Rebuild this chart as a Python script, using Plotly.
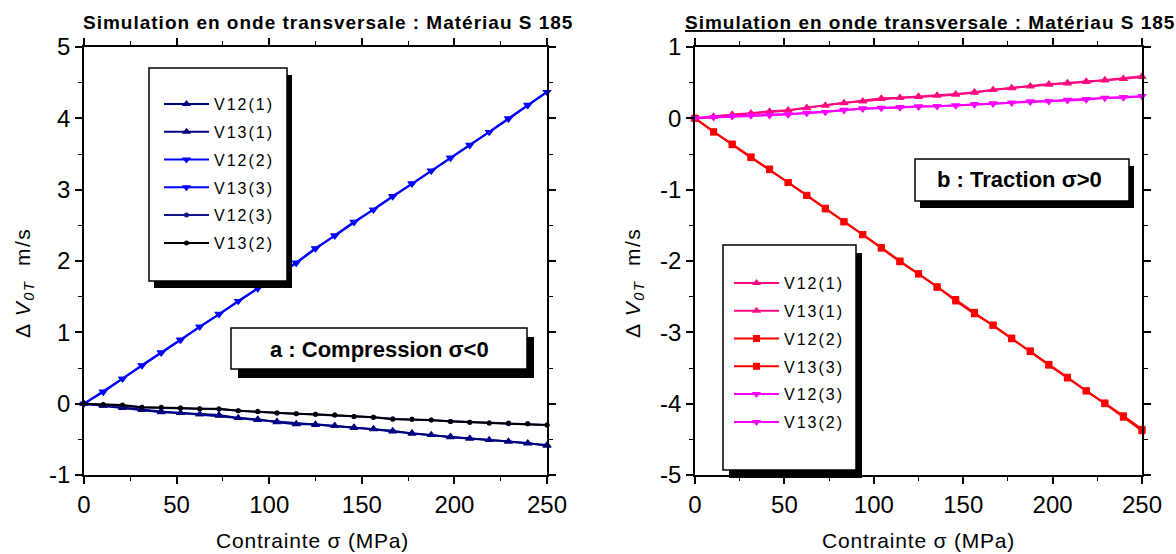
import plotly.graph_objects as go

W, H = 1176, 554

# ---------------- data ----------------
stress = [0, 10.4, 20.8, 31.3, 41.7, 52.1, 62.5, 72.9, 83.3, 93.8, 104.2, 114.6, 125.0,
          135.4, 145.8, 156.3, 166.7, 177.1, 187.5, 197.9, 208.3, 218.8, 229.2, 239.6, 250.0]

series_names = ["V12(1)", "V13(1)", "V12(2)", "V13(3)", "V12(3)", "V13(2)"]

# a : Compression
comp_v12_1 = [0, -0.03, -0.06, -0.09, -0.12, -0.13, -0.15, -0.16, -0.20, -0.22, -0.26, -0.29, -0.29,
              -0.31, -0.33, -0.36, -0.39, -0.41, -0.44, -0.47, -0.49, -0.51, -0.53, -0.55, -0.59]
comp_v13_1 = [0, -0.03, -0.05, -0.08, -0.11, -0.13, -0.15, -0.17, -0.20, -0.23, -0.25, -0.28, -0.30,
              -0.31, -0.34, -0.35, -0.38, -0.42, -0.44, -0.46, -0.49, -0.51, -0.53, -0.56, -0.58]
comp_v12_2 = [0, 0.16, 0.35, 0.53, 0.71, 0.89, 1.08, 1.25, 1.44, 1.61, 1.79, 1.98, 2.18,
              2.35, 2.54, 2.72, 2.91, 3.08, 3.26, 3.45, 3.62, 3.81, 3.99, 4.18, 4.37]
comp_v13_3 = [0, 0.17, 0.35, 0.54, 0.72, 0.90, 1.08, 1.26, 1.44, 1.62, 1.80, 1.97, 2.17,
              2.36, 2.55, 2.72, 2.90, 3.09, 3.27, 3.44, 3.63, 3.81, 4.00, 4.19, 4.37]
comp_v12_3 = [0, -0.02, -0.03, -0.05, -0.06, -0.06, -0.07, -0.08, -0.10, -0.11, -0.13, -0.14, -0.15,
              -0.16, -0.18, -0.19, -0.21, -0.22, -0.23, -0.25, -0.26, -0.27, -0.28, -0.28, -0.30]
comp_v13_2 = [0, -0.01, -0.02, -0.05, -0.05, -0.06, -0.07, -0.07, -0.10, -0.11, -0.13, -0.14, -0.15,
              -0.16, -0.18, -0.19, -0.22, -0.22, -0.23, -0.25, -0.26, -0.27, -0.27, -0.28, -0.30]

# b : Traction
trac_v12_1 = [0, 0.03, 0.055, 0.07, 0.10, 0.115, 0.15, 0.18, 0.22, 0.24, 0.27, 0.29, 0.30,
              0.32, 0.33, 0.37, 0.40, 0.42, 0.45, 0.48, 0.49, 0.52, 0.53, 0.55, 0.58]
trac_v13_1 = [0, 0.02, 0.05, 0.07, 0.09, 0.11, 0.15, 0.18, 0.21, 0.24, 0.28, 0.29, 0.31,
              0.32, 0.34, 0.36, 0.40, 0.43, 0.45, 0.47, 0.50, 0.51, 0.54, 0.56, 0.59]
trac_v12_2 = [0, -0.19, -0.36, -0.54, -0.71, -0.90, -1.08, -1.26, -1.45, -1.63, -1.81, -2.00, -2.18,
              -2.37, -2.54, -2.72, -2.90, -3.08, -3.26, -3.45, -3.63, -3.82, -3.99, -4.17, -4.36]
trac_v13_3 = [0, -0.19, -0.37, -0.55, -0.72, -0.90, -1.08, -1.27, -1.45, -1.63, -1.82, -2.01, -2.18,
              -2.36, -2.56, -2.74, -2.90, -3.09, -3.27, -3.46, -3.64, -3.82, -4.00, -4.19, -4.38]
trac_v12_3 = [0, 0.01, 0.03, 0.04, 0.04, 0.055, 0.08, 0.09, 0.11, 0.14, 0.14, 0.16, 0.16,
              0.17, 0.18, 0.19, 0.21, 0.22, 0.23, 0.24, 0.25, 0.26, 0.29, 0.29, 0.31]
trac_v13_2 = [0, 0.02, 0.03, 0.04, 0.05, 0.05, 0.07, 0.09, 0.12, 0.13, 0.15, 0.15, 0.17,
              0.17, 0.18, 0.20, 0.20, 0.22, 0.24, 0.24, 0.26, 0.27, 0.28, 0.30, 0.31]

comp_series = [comp_v12_1, comp_v13_1, comp_v12_2, comp_v13_3, comp_v12_3, comp_v13_2]
trac_series = [trac_v12_1, trac_v13_1, trac_v12_2, trac_v13_3, trac_v12_3, trac_v13_2]

# tick values / labels
x_ticks = [0, 50, 100, 150, 200, 250]
x_ticklabels = ["0", "50", "100", "150", "200", "250"]
y_ticks_a = [-1, 0, 1, 2, 3, 4, 5]
y_ticklabels_a = ["-1", "0", "1", "2", "3", "4", "5"]
y_ticks_b = [-5, -4, -3, -2, -1, 0, 1]
y_ticklabels_b = ["-5", "-4", "-3", "-2", "-1", "0", "1"]

comp_colors = ["#000080", "#000080", "#0000FF", "#0000FF", "#14148C", "#000000"]
comp_symbols = ["triangle-up", "triangle-up", "triangle-down", "triangle-down", "circle", "circle"]
comp_sizes = [8, 8, 8, 8, 5, 5]
trac_colors = ["#FF0A7E", "#FF0A7E", "#FF0000", "#FF0000", "#FF00FF", "#FF00FF"]
trac_symbols = ["triangle-up", "triangle-up", "square", "square", "triangle-down", "triangle-down"]
trac_sizes = [8, 8, 7, 7, 8, 8]

title_text = "Simulation en onde transversale : Matériau S 185"
x_title = "Contrainte σ (MPa)"
y_title = "Δ <i>V</i><sub><i>0T</i></sub>  m/s"
label_a = "a : Compression σ<0"
label_b = "b : Traction σ>0"

FONT = "Liberation Sans, Arial, sans-serif"


def sp(t, px=1.5):
    return f'<span style="letter-spacing:{px}px">{t}</span>'


def px_x(p):
    return p / W


def px_y(p):
    return 1 - p / H


fig = go.Figure()

for i, name in enumerate(series_names):
    fig.add_trace(go.Scatter(
        x=stress, y=comp_series[i], name=sp(name, 2), mode="lines+markers",
        line=dict(color=comp_colors[i], width=2),
        marker=dict(symbol=comp_symbols[i], size=comp_sizes[i], color=comp_colors[i]),
        xaxis="x", yaxis="y", legend="legend", legendgroup="a" + str(i), cliponaxis=False))

for i, name in enumerate(series_names):
    fig.add_trace(go.Scatter(
        x=stress, y=trac_series[i], name=sp(name, 2), mode="lines+markers",
        line=dict(color=trac_colors[i], width=2),
        marker=dict(symbol=trac_symbols[i], size=trac_sizes[i], color=trac_colors[i]),
        xaxis="x2", yaxis="y2", legend="legend2", legendgroup="b" + str(i), cliponaxis=False))

dom_y = [px_y(475), px_y(47)]
axis_common = dict(showline=True, linecolor="black", linewidth=1.8, mirror="ticks",
                   ticks="outside", ticklen=7, tickwidth=1.5, tickcolor="black",
                   showgrid=False, zeroline=False, automargin=False, tickmode="array",
                   tickfont=dict(family=FONT, size=24, color="black"))
minor_x = dict(dtick=25, ticklen=4, tickwidth=1.2, tickcolor="black", ticks="outside")
minor_y = dict(dtick=0.5, ticklen=4, tickwidth=1.2, tickcolor="black", ticks="outside")

fig.update_layout(
    template="none",
    width=W, height=H,
    margin=dict(l=0, r=0, t=0, b=0, pad=0),
    paper_bgcolor="white", plot_bgcolor="white",
    showlegend=True,
    xaxis=dict(domain=[px_x(84), px_x(547)], range=[0, 250], anchor="y",
               tickvals=x_ticks, ticktext=x_ticklabels, minor=minor_x, **axis_common),
    yaxis=dict(domain=dom_y, range=[-1, 5], anchor="x",
               tickvals=y_ticks_a, ticktext=y_ticklabels_a, minor=minor_y, **axis_common),
    xaxis2=dict(domain=[px_x(695), px_x(1142)], range=[0, 250], anchor="y2",
                tickvals=x_ticks, ticktext=x_ticklabels, minor=minor_x, **axis_common),
    yaxis2=dict(domain=dom_y, range=[-5, 1], anchor="x2",
                tickvals=y_ticks_b, ticktext=y_ticklabels_b, minor=minor_y, **axis_common),
    legend=dict(x=px_x(159), y=px_y(87), xanchor="left", yanchor="top",
                bgcolor="rgba(0,0,0,0)", borderwidth=0, tracegroupgap=4, itemwidth=45,
                font=dict(family=FONT, size=16, color="black")),
    legend2=dict(x=px_x(729), y=px_y(266), xanchor="left", yanchor="top",
                 bgcolor="rgba(0,0,0,0)", borderwidth=0, tracegroupgap=4, itemwidth=45,
                 font=dict(family=FONT, size=16, color="black")),
)

shapes = []


def box(x0, y0, x1, y1, dx, dy):
    shapes.append(dict(type="rect", xref="paper", yref="paper", layer="above",
                       x0=px_x(x0 + dx), x1=px_x(x1 + dx), y0=px_y(y1 + dy), y1=px_y(y0 + dy),
                       fillcolor="black", line=dict(width=0)))
    shapes.append(dict(type="rect", xref="paper", yref="paper", layer="above",
                       x0=px_x(x0), x1=px_x(x1), y0=px_y(y1), y1=px_y(y0),
                       fillcolor="white", line=dict(color="black", width=1.5)))


box(149, 68, 287, 281, 5, 7)
box(723, 245, 856, 470, 6, 8)
box(231, 328, 527, 369, 7, 9)
box(915, 159, 1129, 201, 5, 7)
fig.update_layout(shapes=shapes)

ann = []


def add_ann(text, cx, cy, size, angle=0):
    ann.append(dict(text=text, x=px_x(cx), y=px_y(cy), xref="paper", yref="paper",
                    xanchor="center", yanchor="middle", showarrow=False, textangle=angle,
                    font=dict(family=FONT, size=size, color="black")))


add_ann(sp(f"<b>{title_text}</b>", 1.0), 328, 22, 19)
add_ann(sp("<b><u>Simulation en onde transversale : Matér</u>iau S 185</b>", 1.0), 930, 22, 19)
for cx in (312, 918):
    add_ann(sp(x_title, 0.8), cx, 540, 21)
for cx in (24, 634):
    add_ann(sp(y_title, 1.5), cx, 283, 21, -90)
add_ann(f"<b>{label_a}</b>", 379, 349, 22)
add_ann(f"<b>{label_b}</b>", 1019, 180, 22)
fig.update_layout(annotations=ann)

fig.write_html("out.html")
